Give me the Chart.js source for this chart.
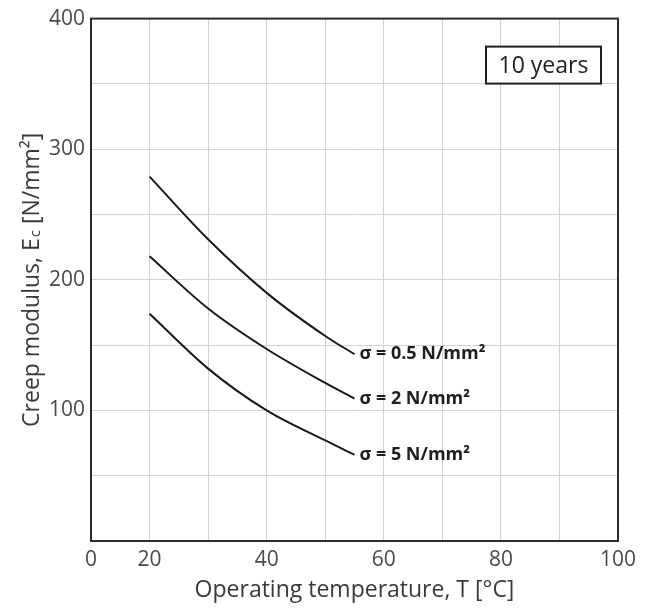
<!DOCTYPE html>
<html>
<head>
<meta charset="utf-8">
<script src="https://cdn.jsdelivr.net/npm/chart.js@4"></script>
<style>
  body { margin: 0; background: #fff; }
  #wrap { width: 652px; height: 610px; }
</style>
</head>
<body>
<div id="wrap"><canvas id="creepChart" width="652" height="610"></canvas></div>
<script>
// valores (T em °C, Ec em N/mm²)
const temps = [20, 30, 40, 50, 55];
const modulus05 = [279, 231, 190, 157, 143];
const modulus2 = [218, 178, 147, 121, 109];
const modulus5 = [174, 132, 100, 77, 66];
const seriesLabels = ['σ = 0.5 N/mm²', 'σ = 2 N/mm²', 'σ = 5 N/mm²'];
const xTickLabels = [20, 40, 60, 80, 100];
const yTickLabels = [100, 200, 300, 400];
const durationLabel = '10 years';

const fontFamily = '"Open Sans", "Noto Sans", sans-serif';

function toPoints(values) {
  return temps.map((t, i) => ({ x: t, y: values[i] }));
}

// moldura, títulos, rótulos das curvas e caixa "10 years"
const decorPlugin = {
  id: 'decor',
  afterDraw(chart) {
    const ctx = chart.ctx;
    const area = chart.chartArea;
    ctx.save();

    // moldura
    ctx.strokeStyle = '#2b2b2b';
    ctx.lineWidth = 2;
    ctx.strokeRect(area.left, area.top, area.right - area.left, area.bottom - area.top);

    // rótulos no fim de cada curva
    ctx.fillStyle = '#1e1e1e';
    ctx.font = 'bold 18px ' + fontFamily;
    ctx.textBaseline = 'middle';
    ctx.textAlign = 'left';
    chart.data.datasets.forEach((ds, i) => {
      const meta = chart.getDatasetMeta(i);
      const last = meta.data[meta.data.length - 1];
      ctx.fillText(ds.label, last.x + 5, last.y);
    });

    // caixa "10 years"
    const boxW = 115, boxH = 37;
    const bx = area.right - 17 - boxW, by = area.top + 28;
    ctx.fillStyle = '#fff';
    ctx.fillRect(bx, by, boxW, boxH);
    ctx.lineWidth = 2;
    ctx.strokeStyle = '#1e1e1e';
    ctx.strokeRect(bx, by, boxW, boxH);
    ctx.fillStyle = '#222';
    ctx.font = '23px ' + fontFamily;
    ctx.textAlign = 'center';
    ctx.fillText(durationLabel, bx + boxW / 2, by + boxH / 2 + 1);

    // título do eixo x
    ctx.fillStyle = '#3a3a3a';
    ctx.font = '23px ' + fontFamily;
    ctx.fillText('Operating temperature, T [°C]', (area.left + area.right) / 2, 590);

    // título do eixo y (com índice "c")
    const part1 = 'Creep modulus, E';
    const sub = 'c';
    const part2 = ' [N/mm²]';
    ctx.font = '23px ' + fontFamily;
    const w1 = ctx.measureText(part1).width;
    const w3 = ctx.measureText(part2).width;
    ctx.font = '15px ' + fontFamily;
    const w2 = ctx.measureText(sub).width + 1;
    const total = w1 + w2 + w3;
    ctx.translate(31, (area.top + area.bottom) / 2);
    ctx.rotate(-Math.PI / 2);
    ctx.textAlign = 'left';
    ctx.textBaseline = 'alphabetic';
    const x0 = -total / 2;
    ctx.font = '23px ' + fontFamily;
    ctx.fillText(part1, x0, 8);
    ctx.font = '15px ' + fontFamily;
    ctx.fillText(sub, x0 + w1 + 1, 9);
    ctx.font = '23px ' + fontFamily;
    ctx.fillText(part2, x0 + w1 + w2, 8);

    ctx.restore();
  }
};

const lineStyle = {
  borderColor: '#1a1a1a',
  borderWidth: 2,
  pointRadius: 0,
  fill: false,
  cubicInterpolationMode: 'monotone'
};

const ctx = document.getElementById('creepChart').getContext('2d');
const creepChart = new Chart(ctx, {
  type: 'line',
  data: {
    datasets: [
      Object.assign({ label: seriesLabels[0], data: toPoints(modulus05) }, lineStyle),
      Object.assign({ label: seriesLabels[1], data: toPoints(modulus2) }, lineStyle),
      Object.assign({ label: seriesLabels[2], data: toPoints(modulus5) }, lineStyle)
    ]
  },
  options: {
    responsive: false,
    animation: false,
    layout: { padding: { top: 15, right: 34, bottom: 0, left: 0 } },
    plugins: {
      legend: { display: false },
      tooltip: { enabled: false }
    },
    scales: {
      x: {
        type: 'linear',
        min: 10,
        max: 100,
        afterFit(scale) { scale.height = 69; },
        grid: { color: '#d2d2d2', lineWidth: 1, drawTicks: false },
        border: { display: false },
        ticks: {
          stepSize: 10,
          autoSkip: false,
          maxRotation: 0,
          padding: 6,
          color: '#4a4a4a',
          font: { family: fontFamily, size: 21 },
          callback(v) {
            if (v === 10) return '0';
            return xTickLabels.includes(v) ? String(v) : '';
          }
        }
      },
      y: {
        min: 0,
        max: 400,
        afterFit(scale) { scale.width = 91; },
        grid: { color: '#d2d2d2', lineWidth: 1, drawTicks: false },
        border: { display: false },
        ticks: {
          stepSize: 50,
          autoSkip: false,
          padding: 6,
          color: '#4a4a4a',
          font: { family: fontFamily, size: 21 },
          callback(v) {
            return yTickLabels.includes(v) ? String(v) : '';
          }
        }
      }
    }
  },
  plugins: [decorPlugin]
});
</script>
</body>
</html>
